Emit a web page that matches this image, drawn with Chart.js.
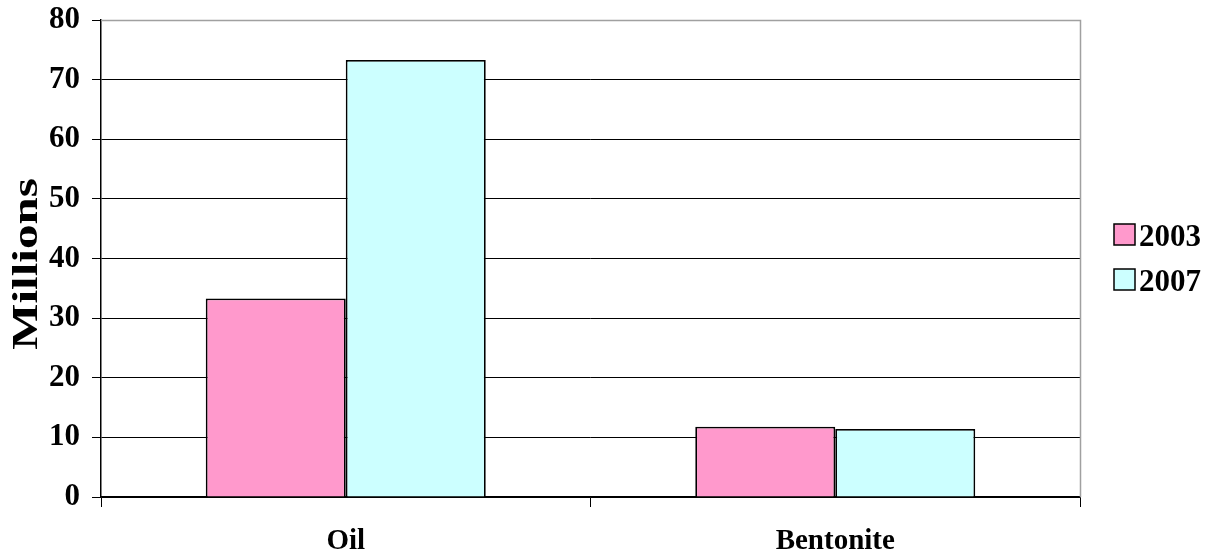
<!DOCTYPE html>
<html>
<head>
<meta charset="utf-8">
<script src="https://cdn.jsdelivr.net/npm/chart.js@4/dist/chart.umd.min.js"></script>
<style>
  html, body { margin: 0; padding: 0; background: #ffffff; }
  #wrap { width: 1213px; height: 556px; position: relative; }
</style>
</head>
<body>
<div id="wrap"><canvas id="chart" width="1213" height="556"></canvas></div>
<script>
// Production values, in millions
const categories = ['Oil', 'Bentonite'];
const seriesNames = ['2003', '2007'];
const values2003 = [33.3, 11.8];
const values2007 = [73.3, 11.4];
const yTicks = [0, 10, 20, 30, 40, 50, 60, 70, 80];
const yTitle = 'Millions';

const FONT = '"Liberation Serif", "Times New Roman", serif';
const seriesColors = ['#FF99CC', '#CCFFFF'];

// Rotated y-axis caption, stretched along its length
const axisTitle = {
  id: 'axisTitle',
  afterDraw(chart) {
    const ctx = chart.ctx;
    ctx.save();
    ctx.translate(36.5, 264);
    ctx.rotate(-Math.PI / 2);
    ctx.scale(1.4, 1);
    ctx.font = 'bold 35px ' + FONT;
    ctx.textAlign = 'center';
    ctx.textBaseline = 'alphabetic';
    ctx.fillStyle = '#000';
    ctx.fillText(yTitle, 0, 0);
    ctx.restore();
  }
};

// Plot-area frame: grey top and right edges
const plotFrame = {
  id: 'plotFrame',
  beforeDatasetsDraw(chart) {
    const {ctx, chartArea: a} = chart;
    ctx.save();
    ctx.strokeStyle = '#a0a0a0';
    ctx.lineWidth = 1.5;
    ctx.beginPath();
    ctx.moveTo(a.left, a.top + 0.5);
    ctx.lineTo(a.right + 0.5, a.top + 0.5);
    ctx.lineTo(a.right + 0.5, a.bottom);
    ctx.stroke();
    ctx.restore();
  }
};

// Legend on the right, built from the datasets
const sideLegend = {
  id: 'sideLegend',
  afterDraw(chart) {
    const ctx = chart.ctx;
    ctx.save();
    chart.data.datasets.forEach((ds, i) => {
      const top = 224 + i * 45;
      ctx.fillStyle = ds.backgroundColor;
      ctx.fillRect(1114, top, 21, 21);
      ctx.strokeStyle = '#000';
      ctx.lineWidth = 1.5;
      ctx.strokeRect(1114, top, 21, 21);
      ctx.fillStyle = '#000';
      ctx.font = 'bold 31px ' + FONT;
      ctx.textAlign = 'left';
      ctx.textBaseline = 'alphabetic';
      ctx.fillText(ds.label, 1139, top + 22);
    });
    ctx.restore();
  }
};

new Chart(document.getElementById('chart'), {
  type: 'bar',
  data: {
    labels: categories,
    datasets: [
      { label: seriesNames[0], data: values2003, backgroundColor: seriesColors[0],
        borderColor: '#000', borderWidth: 1.8 },
      { label: seriesNames[1], data: values2007, backgroundColor: seriesColors[1],
        borderColor: '#000', borderWidth: 1.8 }
    ]
  },
  options: {
    responsive: false,
    animation: false,
    devicePixelRatio: 1,
    layout: { padding: { top: 20, right: 133, left: 0, bottom: 0 } },
    datasets: { bar: { categoryPercentage: 0.572, barPercentage: 1.0 } },
    plugins: {
      legend: { display: false },
      tooltip: { enabled: false },
      title: { display: false }
    },
    scales: {
      x: {
        afterFit(scale) { scale.height = 59; scale.paddingLeft = 0; scale.paddingRight = 0; },
        grid: { drawOnChartArea: false, drawTicks: true, tickLength: 10, color: '#000', offset: true },
        border: { color: '#000', width: 1.5 },
        ticks: { color: '#000', padding: 17, font: { family: FONT, size: 29, weight: 'bold' } }
      },
      y: {
        min: 0, max: 80,
        afterFit(scale) { scale.width = 101; scale.paddingTop = 0; scale.paddingBottom = 0; },
        afterBuildTicks(scale) { scale.ticks = yTicks.map(v => ({ value: v })); },
        grid: {
          color: ctx => (ctx.tick && ctx.tick.value === 80 ? '#a0a0a0' : '#000'),
          tickColor: '#000', tickLength: 9, lineWidth: 1
        },
        border: { color: '#000', width: 1.5 },
        ticks: { color: '#000', padding: 12, font: { family: FONT, size: 31, weight: 'bold' } }
      }
    }
  },
  plugins: [axisTitle, plotFrame, sideLegend]
});
</script>
</body>
</html>
